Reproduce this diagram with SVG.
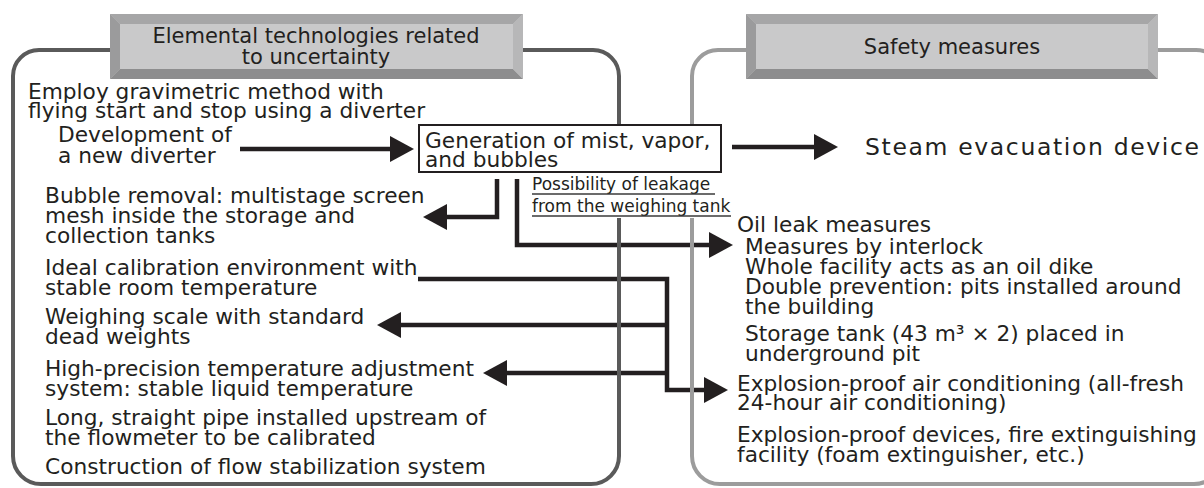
<svg xmlns="http://www.w3.org/2000/svg" width="1204" height="488" viewBox="0 0 1204 488">
<style>
text{font-family:"DejaVu Sans","Noto Sans",sans-serif;fill:#231f20;font-size:21.7px}
.hd{font-size:21px;text-anchor:middle}
.sm{font-size:17px}
.conn{fill:none;stroke:#231f20;stroke-width:4.5;stroke-linejoin:miter}
.ul{stroke:#3a3a3a;stroke-width:1.5}
.fl{fill:none;stroke:#5a5a5a;stroke-width:4}
.fr{fill:none;stroke:#9c9c9c;stroke-width:4}
.face{fill:#c9c9ca}
.bt{fill:#a6a6a7}.bl{fill:#9b9b9c}.bb{fill:#8d8d8e}.br{fill:#b7b7b8}
</style>
<defs>
<marker id="ah" viewBox="0 0 24 26" refX="12" refY="13" markerWidth="24" markerHeight="26" markerUnits="userSpaceOnUse" orient="auto">
<path d="M0,0 L24,13 L0,26 Z" fill="#231f20"/>
</marker>
</defs>
<g id="connectors">
<path class="conn" d="M240,149 H402" marker-end="url(#ah)"/>
<path class="conn" d="M732,147 H826" marker-end="url(#ah)"/>
<path class="conn" d="M497,179 V217 H435" marker-end="url(#ah)"/>
<path class="conn" d="M517,179 V245 H721" marker-end="url(#ah)"/>
<path class="conn" d="M418,279 H667 V390 H716" marker-end="url(#ah)"/>
<path class="conn" d="M667,325 H389" marker-end="url(#ah)"/>
<path class="conn" d="M667,373 H495" marker-end="url(#ah)"/>
</g>
<g id="frame-left">
<path class="fl" d="M619,218 V456 A28,28 0 0 1 591,484 H41 A28,28 0 0 1 13,456 V76 A26,26 0 0 1 39,50 H593 A26,26 0 0 1 619,76 V125"/>
</g>
<g id="frame-right">
<path class="fr" d="M692,125 V76 A26,26 0 0 1 718,50 H1196 A26,26 0 0 1 1222,76 V456 A28,28 0 0 1 1194,484 H720 A28,28 0 0 1 692,456 V218"/>
</g>
<g id="header-left">
<rect class="face" x="110" y="14" width="413" height="65"/>
<polygon class="bt" points="110,14 523,14 513,24 120,24"/>
<polygon class="bl" points="110,14 120,24 120,69 110,79"/>
<polygon class="bb" points="110,79 120,69 513,69 523,79"/>
<polygon class="br" points="523,14 523,79 513,69 513,24"/>
<text class="hd" x="316" y="43">Elemental technologies related</text>
<text class="hd" x="316" y="64">to uncertainty</text>
</g>
<g id="header-right">
<rect class="face" x="746" y="14" width="412" height="65"/>
<polygon class="bt" points="746,14 1158,14 1148,24 756,24"/>
<polygon class="bl" points="746,14 756,24 756,69 746,79"/>
<polygon class="bb" points="746,79 756,69 1148,69 1158,79"/>
<polygon class="br" points="1158,14 1158,79 1148,69 1148,24"/>
<text class="hd" x="952" y="54">Safety measures</text>
</g>
<g id="node-gravimetric">
<text x="28" y="99">Employ gravimetric method with</text>
<text x="28" y="118">flying start and stop using a diverter</text>
</g>
<g id="node-diverter">
<text x="58" y="142">Development of</text>
<text x="58" y="163">a new diverter</text>
</g>
<g id="node-generation">
<rect x="419" y="125" width="302" height="47" fill="#fff" stroke="#231f20" stroke-width="2"/>
<text x="425" y="148">Generation of mist, vapor,</text>
<text x="425" y="167">and bubbles</text>
</g>
<g id="node-steam">
<text x="865" y="155" style="font-size:23.5px" textLength="334" lengthAdjust="spacing">Steam evacuation device</text>
</g>
<g id="label-leakage">
<text class="sm" x="532" y="190">Possibility of leakage</text>
<line class="ul" x1="532" y1="194" x2="715" y2="194"/>
<text class="sm" x="532" y="212">from the weighing tank</text>
<line class="ul" x1="532" y1="216" x2="731" y2="216"/>
</g>
<g id="node-bubble">
<text x="45" y="203">Bubble removal: multistage screen</text>
<text x="45" y="223">mesh inside the storage and</text>
<text x="45" y="243">collection tanks</text>
</g>
<g id="node-ideal">
<text x="45" y="275">Ideal calibration environment with</text>
<text x="45" y="295">stable room temperature</text>
</g>
<g id="node-weighing">
<text x="45" y="324">Weighing scale with standard</text>
<text x="45" y="344">dead weights</text>
</g>
<g id="node-temperature">
<text x="45" y="376">High-precision temperature adjustment</text>
<text x="45" y="396">system: stable liquid temperature</text>
</g>
<g id="node-pipe">
<text x="45" y="425">Long, straight pipe installed upstream of</text>
<text x="45" y="445">the flowmeter to be calibrated</text>
</g>
<g id="node-flow">
<text x="45" y="474">Construction of flow stabilization system</text>
</g>
<g id="node-oil">
<text x="737" y="232">Oil leak measures</text>
<text x="745" y="254">Measures by interlock</text>
<text x="745" y="274">Whole facility acts as an oil dike</text>
<text x="745" y="294">Double prevention: pits installed around</text>
<text x="745" y="314">the building</text>
<text x="745" y="341">Storage tank (43 m³ × 2) placed in</text>
<text x="745" y="361">underground pit</text>
</g>
<g id="node-aircon">
<text x="737" y="391">Explosion-proof air conditioning (all-fresh</text>
<text x="737" y="410">24-hour air conditioning)</text>
</g>
<g id="node-devices">
<text x="737" y="442">Explosion-proof devices, fire extinguishing</text>
<text x="737" y="462">facility (foam extinguisher, etc.)</text>
</g>
</svg>
